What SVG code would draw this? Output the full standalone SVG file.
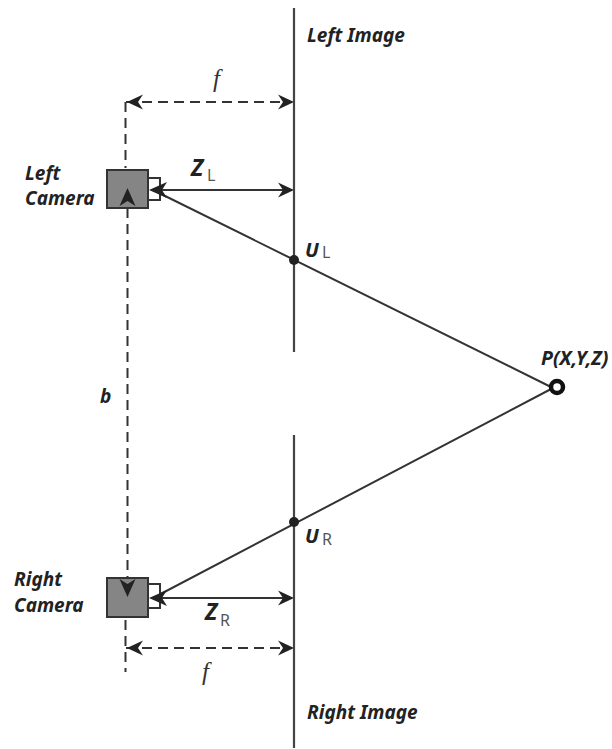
<svg xmlns="http://www.w3.org/2000/svg" width="612" height="749" viewBox="0 0 612 749">
<style>
.l{fill:none;stroke:#333;stroke-width:2}
.r{fill:none;stroke:#444;stroke-width:2.200}
.d{fill:none;stroke:#333;stroke-width:2;stroke-dasharray:10 6}
.a{fill:#222}
.cam{fill:#858585;stroke:#333;stroke-width:2}
.lens{fill:#fff;stroke:#333;stroke-width:2}
text{font-family:"Noto Sans","Open Sans",sans-serif;font-weight:700;font-style:italic;fill:#222;font-size:19px}
.z{font-size:23px}
.u{font-size:20px}
.p{font-size:19.500px}
.s{font-weight:400;font-style:normal;fill:#555;font-size:16px}
.f{font-family:"Liberation Serif",serif;font-weight:400;font-size:25px;fill:#333}
</style>
<defs>
<path id="ar" class="a" d="M0 0L-16 -7.500L-11 0L-16 7.500Z"/>
<path id="ar2" class="a" d="M0 0L-18 -8L-13 0L-18 8Z"/>
</defs>
<g id="connectors">
<path class="r" d="M294 8V352M294 435V748"/>
<path class="l" d="M153 190L553 388M153 598L553 388"/>
<path class="l" d="M152 190H292M152 598H292"/>
<path class="d" d="M125.500 102V168M125.500 620V672M127.500 208V578"/>
<path class="d" d="M126 102H292M126 648H292"/>
<use href="#ar" transform="translate(294 102)"/>
<use href="#ar" transform="translate(127 102) rotate(180)"/>
<use href="#ar" transform="translate(294 190)"/>
<use href="#ar" transform="translate(294 598)"/>
<use href="#ar" transform="translate(294 648)"/>
<use href="#ar" transform="translate(127 648) rotate(180)"/>
</g>
<g id="left-camera">
<rect class="lens" x="148" y="178" width="12" height="22"/>
<rect class="cam" x="107" y="170" width="41" height="38"/>
<use href="#ar2" transform="translate(149 190) rotate(180)"/>
<use href="#ar2" transform="translate(127.500 188) rotate(-90)"/>
<text x="25" y="180">Left</text>
<text x="25" y="205">Camera</text>
</g>
<g id="right-camera">
<rect class="lens" x="148" y="584" width="12" height="24"/>
<rect class="cam" x="107" y="578" width="41" height="39"/>
<use href="#ar2" transform="translate(149 598) rotate(180)"/>
<use href="#ar2" transform="translate(127.500 597) rotate(90)"/>
<text x="14" y="586">Right</text>
<text x="14" y="612">Camera</text>
</g>
<g id="point-ul"><circle class="a" cx="294" cy="260" r="5"/><text class="u" x="305" y="257">U</text><text class="s" x="322" y="258">L</text></g>
<g id="point-ur"><circle class="a" cx="294" cy="522" r="5"/><text class="u" x="305" y="543">U</text><text class="s" x="322" y="545">R</text></g>
<g id="point-p"><circle cx="557" cy="387" r="6" fill="#fff" stroke="#111" stroke-width="4.500"/><text class="p" x="541" y="365">P(X,Y,Z)</text></g>
<g id="labels">
<text x="307" y="42">Left Image</text>
<text x="307" y="719">Right Image</text>
<text class="f" x="213" y="87">f</text>
<text class="f" x="202" y="680">f</text>
<text class="z" x="191" y="176">Z</text><text class="s" x="207" y="181">L</text>
<text class="z" x="205" y="620">Z</text><text class="s" x="220" y="626">R</text>
<text x="100" y="403">b</text>
</g>
</svg>
